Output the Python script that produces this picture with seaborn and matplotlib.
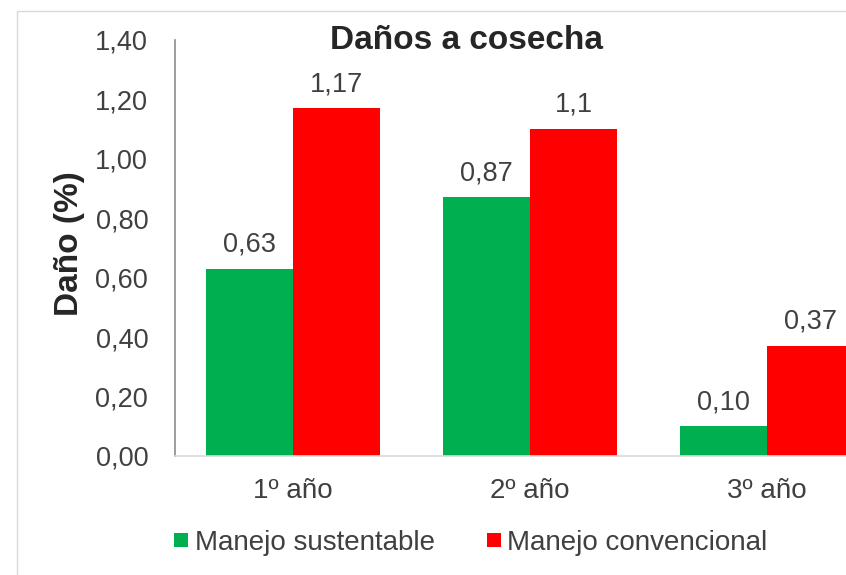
import matplotlib
matplotlib.use("Agg")
import matplotlib.pyplot as plt
from matplotlib.lines import Line2D
import seaborn as sns
import pandas as pd

# Harvest damage per year and management type
categories = ["1º año", "2º año", "3º año"]
series_names = ["Manejo sustentable", "Manejo convencional"]
sustentable = [0.63, 0.87, 0.10]
convencional = [1.17, 1.10, 0.37]
sustentable_labels = ["0,63", "0,87", "0,10"]
convencional_labels = ["1,17", "1,1", "0,37"]
y_ticks = [0.0, 0.2, 0.4, 0.6, 0.8, 1.0, 1.2, 1.4]

colors = {"Manejo sustentable": "#00B050", "Manejo convencional": "#FF0000"}

df = pd.DataFrame({
    "Año": categories * 2,
    "Manejo": [series_names[0]] * 3 + [series_names[1]] * 3,
    "Daño": sustentable + convencional,
})

sns.set_theme(style="white")
plt.rcParams["font.family"] = ["Liberation Sans", "DejaVu Sans"]

fig = plt.figure(figsize=(8.46, 5.75), dpi=100)
ax = fig.add_axes([0.2063, 0.207, 0.8404, 0.7235])

sns.barplot(data=df, x="Año", y="Daño", hue="Manejo", order=categories,
            hue_order=series_names, palette=colors, width=0.734, gap=0,
            saturation=1, linewidth=0, legend=False, ax=ax)

text_color = "#404040"
ax.set_xlim(-0.5, 2.5)
ax.set_ylim(0, 1.4)
ax.set_yticks(y_ticks)
ax.set_yticklabels([f"{v:.2f}".replace(".", ",") for v in y_ticks])
ax.tick_params(axis="y", length=0, pad=19, labelsize=19.5, labelcolor=text_color)
ax.tick_params(axis="x", length=0, pad=16, labelsize=20, labelcolor=text_color)
ax.set_xlabel("")
ax.set_ylabel("")

for side in ["top", "right"]:
    ax.spines[side].set_visible(False)
ax.spines["left"].set_color("#8c8c8c")
ax.spines["left"].set_linewidth(1.2)
ax.spines["bottom"].set_color("#d9d9d9")
ax.spines["bottom"].set_linewidth(1.2)

for container, labels in zip(ax.containers, [sustentable_labels, convencional_labels]):
    ax.bar_label(container, labels=labels, padding=8, fontsize=19.5, color=text_color)

fig.text(0.551, 0.930, "Daños a cosecha", ha="center", va="center",
         fontsize=24, fontweight="bold", color="#262626")
fig.text(0.082, 0.576, "Daño (%)", ha="center", va="center", rotation=90,
         fontsize=24, fontweight="bold", color="#262626")

handles = [Line2D([], [], marker="s", linestyle="", markersize=10,
                  markerfacecolor=colors[n], markeredgewidth=0) for n in series_names]
fig.legend(handles, series_names, loc="center", bbox_to_anchor=(0.556, 0.056),
           ncol=2, frameon=False, fontsize=20, handlelength=0.6, handletextpad=0.2,
           columnspacing=1.8, labelcolor=text_color)

# Outer chart-area border
fig.add_artist(Line2D([17 / 846, 17 / 846], [0, 1 - 11 / 575], transform=fig.transFigure,
                      color="#d9d9d9", linewidth=1))
fig.add_artist(Line2D([17 / 846, 1], [1 - 11 / 575, 1 - 11 / 575], transform=fig.transFigure,
                      color="#d9d9d9", linewidth=1))

fig.savefig("out.png", dpi=100, facecolor="white")
